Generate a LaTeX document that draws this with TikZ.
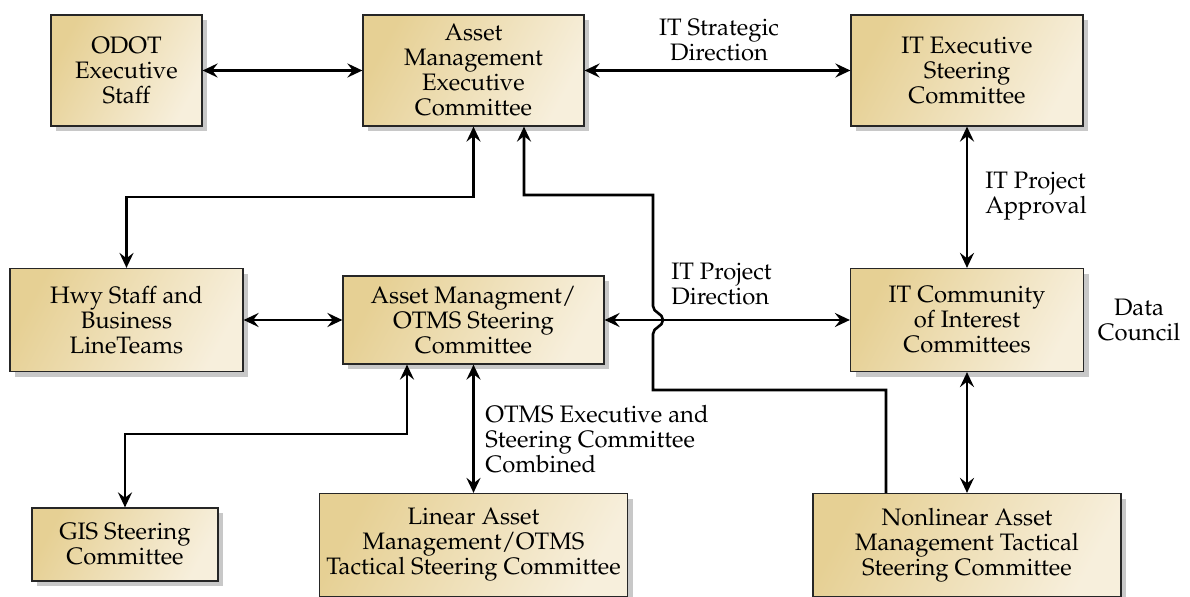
\documentclass[tikz,border=0pt]{standalone}
\usepackage[T1]{fontenc}
\usepackage{mathpazo}
\usepackage{xcolor}
\usepackage{tikz}
\usetikzlibrary{
    arrows.meta,
    shadows,
    calc,
    positioning,
}
\definecolor{tanDark}{RGB}{230,208,148}
\definecolor{tanLight}{RGB}{247,239,220}
\definecolor{shadowGray}{RGB}{200,200,200}

\begin{document}
\begin{tikzpicture}[x=0.5pt,y=-0.5pt,>={Stealth[length=7.5pt,width=7pt,inset=2.7pt]}]

    \tikzstyle{commonText}=[font=\fontsize{11.9}{12.5}\selectfont, align=center, inner sep=0pt]
    \tikzstyle{committee}=[commonText, rectangle, draw=black!85, line width=0.6pt,
        left color=tanDark, right color=tanLight, shading angle=62,
        drop shadow={shadow xshift=2.6pt, shadow yshift=-2.6pt, fill=shadowGray, opacity=1}]
    \tikzstyle{note}=[commonText]
    \tikzstyle{twoway}=[<->, line width=1.3pt, black]
    \tikzstyle{oneway}=[->, line width=1.3pt, black]

    % Page frame
    \useasboundingbox (0,0) rectangle (1190,597);

    \begin{scope}
        % Top row
        \node at (126.5,70.5) [committee, minimum width=75.5pt, minimum height=55.5pt] (odot)
            {ODOT\\Executive\\Staff};
        \node at (473.5,70.5) [committee, minimum width=110.5pt, minimum height=55.5pt] (amec)
            {Asset\\Management\\Executive\\Committee}
            edge [twoway] (odot);
        \node at (967,70.5) [committee, minimum width=116pt, minimum height=55.5pt] (itexec)
            {IT Executive\\Steering\\Committee}
            edge [twoway] (amec);

        % Middle row
        \node at (126.5,320) [committee, minimum width=116.5pt, minimum height=51.5pt] (hwy)
            {Hwy Staff and\\Business\\LineTeams};
        \node at (473.5,320) [committee, minimum width=130.5pt, minimum height=44pt] (amotms)
            {Asset Managment/\\OTMS Steering\\Committee}
            edge [twoway] (hwy);
        \node at (967,320) [committee, minimum width=116.5pt, minimum height=51.5pt] (itcoi)
            {IT Community\\of Interest\\Committees}
            edge [twoway] (itexec);

        % Bottom row
        \node at (125,544.5) [committee, minimum width=93pt, minimum height=36.5pt] (gis)
            {GIS Steering\\Committee};
        \node at (473.5,545) [committee, minimum width=154pt, minimum height=51.5pt] (linear)
            {Linear Asset\\Management/OTMS\\Tactical Steering Committee}
            edge [twoway] (amotms);
        \node at (967,545) [committee, minimum width=154pt, minimum height=51.5pt] (nonlinear)
            {Nonlinear Asset\\Management Tactical\\Steering Committee}
            edge [twoway] (itcoi);

        % Bent connectors
        \draw [twoway] (amec.south) -- (473.5,197) -| (hwy.north);
        \draw [twoway] (amotms.south -| 407,0) |- (125,434) -- (gis.north);
        \draw [twoway] (amotms.east) -- (itcoi.west);
        \draw [oneway] (nonlinear.north -| 886,0) |- (653,390) -- (653,334)
            .. controls (653,327) and (663,327) .. (663,320)
            .. controls (663,313) and (653,313) .. (653,306)
            |- (524,195) -- (amec.south -| 524,0);

        % Labels
        \node at (719,40) [note] (strategic) {IT Strategic\\Direction};
        \node at (985,196) [note, anchor=west, align=left] (approval) {IT Project\\Approval};
        \node at (671,284) [note, anchor=west, align=left] (direction) {IT Project\\Direction};
        \node at (485,439) [note, anchor=west, align=left] (combined)
            {OTMS Executive and\\Steering Committee\\Combined};
        \node at (1139,320) [note] (council) {Data\\Council};
    \end{scope}
\end{tikzpicture}
\end{document}
